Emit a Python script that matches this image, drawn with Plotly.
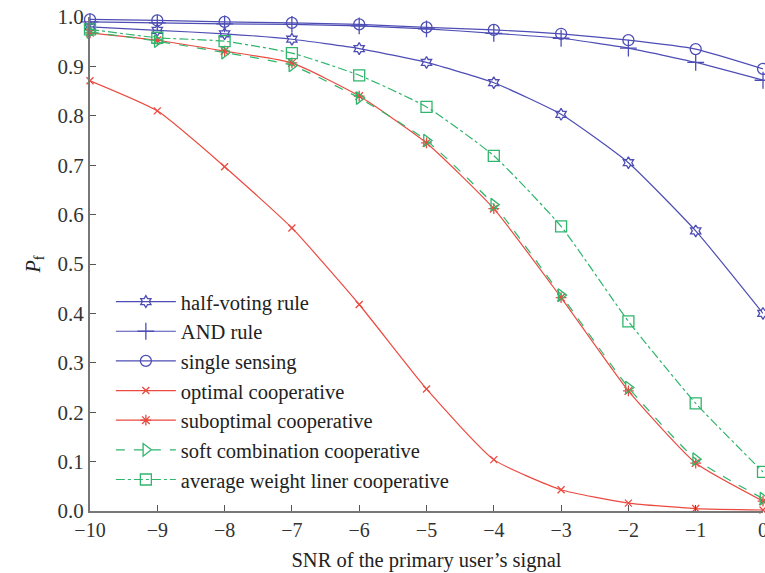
import plotly.graph_objects as go

snr = [-10, -9, -8, -7, -6, -5, -4, -3, -2, -1, 0]

half_voting = [0.980, 0.973, 0.966, 0.955, 0.936, 0.908, 0.867, 0.803, 0.705, 0.567, 0.400]
and_rule = [0.990, 0.988, 0.986, 0.985, 0.982, 0.976, 0.967, 0.957, 0.937, 0.908, 0.872]
single_sensing = [0.995, 0.993, 0.990, 0.988, 0.985, 0.979, 0.974, 0.966, 0.953, 0.935, 0.895]
optimal = [0.871, 0.810, 0.697, 0.573, 0.418, 0.247, 0.104, 0.043, 0.016, 0.005, 0.002]
suboptimal = [0.968, 0.953, 0.931, 0.907, 0.840, 0.745, 0.612, 0.432, 0.243, 0.097, 0.020]
soft_comb = [0.970, 0.951, 0.928, 0.902, 0.836, 0.750, 0.620, 0.437, 0.250, 0.105, 0.025]
avg_weight = [0.975, 0.958, 0.951, 0.927, 0.882, 0.818, 0.719, 0.576, 0.384, 0.218, 0.079]

names = ["half-voting rule", "AND rule", "single sensing", "optimal cooperative",
         "suboptimal cooperative", "soft combination cooperative",
         "average weight liner cooperative"]

x_ticktext = ["\u221210", "\u22129", "\u22128", "\u22127", "\u22126", "\u22125",
              "\u22124", "\u22123", "\u22122", "\u22121", "0"]
y_tickvals = [0, 0.1, 0.2, 0.3, 0.4, 0.5, 0.6, 0.7, 0.8, 0.9, 1.0]
y_ticktext = ["0.0", "0.1", "0.2", "0.3", "0.4", "0.5", "0.6", "0.7", "0.8", "0.9", "1.0"]

BLUE = "#4d4db5"
RED = "#ea4a3f"
GREEN = "#2fb56c"

series = [
    (half_voting, BLUE, "hexagram-open", "solid", 9),
    (and_rule, BLUE, "cross-thin-open", "solid", 12),
    (single_sensing, BLUE, "circle-open", "solid", 11),
    (optimal, RED, "x-thin-open", "solid", 7),
    (suboptimal, RED, "asterisk-open", "solid", 9),
    (soft_comb, GREEN, "triangle-right-open", "dash", 11),
    (avg_weight, GREEN, "square-open", "dashdot", 11),
]

fig = go.Figure()
for (vals, col, sym, dash, size), name in zip(series, names):
    fig.add_trace(go.Scatter(
        x=snr, y=vals, name=name, mode="lines+markers",
        line=dict(color=col, width=1.2, dash=dash, shape="spline", smoothing=0.5),
        marker=dict(symbol=sym, size=size, color=col, line=dict(color=col, width=1.3)),
        cliponaxis=False,
    ))

font_family = "Liberation Serif, Times New Roman, serif"

fig.update_layout(
    width=765, height=573,
    margin=dict(l=90, r=2, t=17, b=62),
    paper_bgcolor="white", plot_bgcolor="white",
    font=dict(family=font_family, size=20, color="#333333"),
    showlegend=True,
    legend=dict(x=0.031, y=0.464, xanchor="left", yanchor="top",
                bgcolor="rgba(0,0,0,0)", font=dict(size=20.5, color="#222222"),
                tracegroupgap=0, itemwidth=60),
    xaxis=dict(range=[-10, 0], tickmode="array", tickvals=snr, ticktext=x_ticktext,
               showgrid=False, zeroline=False, showline=True, linecolor="#777777", linewidth=2,
               ticks="inside", ticklen=6, tickcolor="#555555", automargin=False,
               ticklabeloverflow="allow",
               tickfont=dict(size=20, color="#333333"),
               title=dict(text="SNR of the primary user\u2019s signal", standoff=13,
                          font=dict(size=20.5, color="#222222"))),
    yaxis=dict(range=[0, 1.0], tickmode="array", tickvals=y_tickvals, ticktext=y_ticktext,
               showgrid=False, zeroline=False, showline=True, linecolor="#777777", linewidth=2,
               ticks="inside", ticklen=6, tickcolor="#555555", automargin=False,
               ticklabeloverflow="allow",
               tickfont=dict(size=21, color="#333333"),
               title=dict(text="<i>P</i><sub>f</sub>", standoff=12,
                          font=dict(size=20, color="#222222"))),
)

# remove the default page margin so the figure fills the window exactly
fig.write_html("out.html", config={"displayModeBar": False},
               post_script="document.body.style.margin='0';document.body.style.overflow='hidden';")
